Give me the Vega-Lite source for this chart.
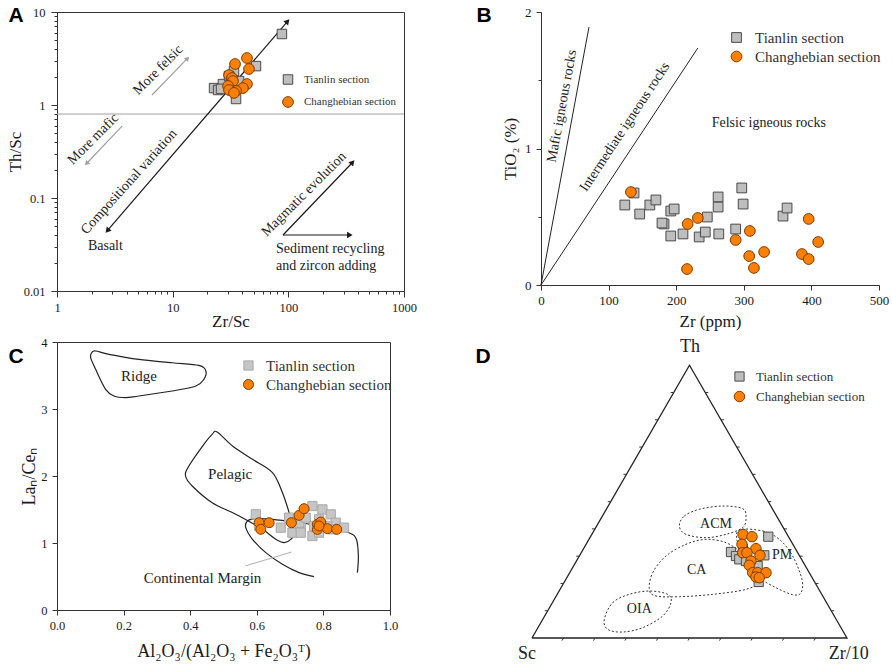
{
  "$schema": "https://vega.github.io/schema/vega-lite/v6.json",
  "background": "white",
  "padding": {"left": 6, "top": 4, "right": 2, "bottom": 2},
  "columns": 2,
  "spacing": {"row": 51, "column": 137},
  "bounds": "flush",
  "resolve": {
    "scale": {"shape": "independent", "fill": "independent", "stroke": "independent", "size": "independent"},
    "legend": {"shape": "independent", "fill": "independent", "stroke": "independent", "size": "independent"}
  },
  "config": {
    "font": "Liberation Serif",
    "view": {"stroke": "#333", "strokeWidth": 1},
    "axis": {
      "grid": false, "labelFont": "Liberation Serif", "titleFont": "Liberation Serif",
      "titleFontWeight": "normal", "labelColor": "#1a1a1a", "titleColor": "#1a1a1a",
      "domainColor": "#333", "tickColor": "#333", "labelFontSize": 12, "titleFontSize": 17,
      "labelOverlap": false, "labelFlush": false
    },
    "legend": {"labelFont": "Liberation Serif", "labelColor": "#333", "title": null, "padding": 0, "symbolStrokeWidth": 1}
  },
  "concat": [
    {
      "width": 347, "height": 279,
      "view": {"stroke": "#333", "strokeWidth": 1},
      "layer": [
        {
          "data": {"values": [{"th_sc": 0.8}]},
          "mark": {"type": "rule", "color": "#a0a0a0", "strokeWidth": 1},
          "encoding": {"y": {"field": "th_sc", "type": "quantitative", "scale": {"type": "log", "domain": [0.01, 10], "nice": false}}}
        },
        {
          "data": {"values": [
            {"arrow": "main", "zr_sc": 2.76, "th_sc": 0.0453}, {"arrow": "main", "zr_sc": 97.3, "th_sc": 7.8},
            {"arrow": "magmatic", "zr_sc": 89.9, "th_sc": 0.040}, {"arrow": "magmatic", "zr_sc": 355, "th_sc": 0.238},
            {"arrow": "sediment", "zr_sc": 89.9, "th_sc": 0.040}, {"arrow": "sediment", "zr_sc": 334, "th_sc": 0.040}
          ]},
          "mark": {"type": "line", "color": "#1a1a1a", "strokeWidth": 1.2},
          "encoding": {
            "x": {"field": "zr_sc", "type": "quantitative", "scale": {"type": "log", "domain": [1, 1000], "nice": false}},
            "y": {"field": "th_sc", "type": "quantitative", "scale": {"type": "log", "domain": [0.01, 10], "nice": false}},
            "detail": {"field": "arrow"}
          }
        },
        {
          "data": {"values": [
            {"arrow": "felsic", "zr_sc": 6.63, "th_sc": 1.28}, {"arrow": "felsic", "zr_sc": 13.3, "th_sc": 3.13},
            {"arrow": "mafic", "zr_sc": 3.65, "th_sc": 0.594}, {"arrow": "mafic", "zr_sc": 1.82, "th_sc": 0.238}
          ]},
          "mark": {"type": "line", "color": "#a0a0a0", "strokeWidth": 1.2},
          "encoding": {"x": {"field": "zr_sc", "type": "quantitative"}, "y": {"field": "th_sc", "type": "quantitative"}, "detail": {"field": "arrow"}}
        },
        {
          "data": {"values": [{"zr_sc": 97.3, "th_sc": 7.8}, {"zr_sc": 355, "th_sc": 0.238}]},
          "mark": {"type": "point", "shape": "triangle", "filled": true, "color": "#1a1a1a", "size": 40, "angle": 42, "opacity": 1},
          "encoding": {"x": {"field": "zr_sc", "type": "quantitative"}, "y": {"field": "th_sc", "type": "quantitative"}}
        },
        {
          "data": {"values": [{"zr_sc": 2.76, "th_sc": 0.0453}]},
          "mark": {"type": "point", "shape": "triangle", "filled": true, "color": "#1a1a1a", "size": 40, "angle": 221, "opacity": 1},
          "encoding": {"x": {"field": "zr_sc", "type": "quantitative"}, "y": {"field": "th_sc", "type": "quantitative"}}
        },
        {
          "data": {"values": [{"zr_sc": 334, "th_sc": 0.040}]},
          "mark": {"type": "point", "shape": "triangle", "filled": true, "color": "#1a1a1a", "size": 40, "angle": 90, "opacity": 1},
          "encoding": {"x": {"field": "zr_sc", "type": "quantitative"}, "y": {"field": "th_sc", "type": "quantitative"}}
        },
        {
          "data": {"values": [{"zr_sc": 13.3, "th_sc": 3.13}]},
          "mark": {"type": "point", "shape": "triangle", "filled": true, "color": "#a0a0a0", "size": 30, "angle": 44, "opacity": 1},
          "encoding": {"x": {"field": "zr_sc", "type": "quantitative"}, "y": {"field": "th_sc", "type": "quantitative"}}
        },
        {
          "data": {"values": [{"zr_sc": 1.82, "th_sc": 0.238}]},
          "mark": {"type": "point", "shape": "triangle", "filled": true, "color": "#a0a0a0", "size": 30, "angle": 223, "opacity": 1},
          "encoding": {"x": {"field": "zr_sc", "type": "quantitative"}, "y": {"field": "th_sc", "type": "quantitative"}}
        },
        {
          "data": {"values": [
            {"label": "More felsic", "zr_sc": 7.47, "th_sc": 2.38},
            {"label": "More mafic", "zr_sc": 2.05, "th_sc": 0.43},
            {"label": "Magmatic evolution", "zr_sc": 136.5, "th_sc": 0.110}
          ]},
          "mark": {"type": "text", "angle": -45, "fontSize": 14, "font": "Liberation Serif", "color": "#222", "align": "center", "baseline": "middle"},
          "encoding": {"x": {"field": "zr_sc", "type": "quantitative"}, "y": {"field": "th_sc", "type": "quantitative"}, "text": {"field": "label"}}
        },
        {
          "data": {"values": [{"label": "Compositional variation", "zr_sc": 4.19, "th_sc": 0.149}]},
          "mark": {"type": "text", "angle": -48, "fontSize": 14, "font": "Liberation Serif", "color": "#222", "align": "center", "baseline": "middle"},
          "encoding": {"x": {"field": "zr_sc", "type": "quantitative"}, "y": {"field": "th_sc", "type": "quantitative"}, "text": {"field": "label"}}
        },
        {
          "data": {"values": [
            {"label": "Basalt", "zr_sc": 1.85, "th_sc": 0.0305},
            {"label": "Sediment recycling", "zr_sc": 78.2, "th_sc": 0.0283},
            {"label": "and zircon adding", "zr_sc": 78.2, "th_sc": 0.0186}
          ]},
          "mark": {"type": "text", "fontSize": 14, "font": "Liberation Serif", "color": "#222", "align": "left", "baseline": "middle"},
          "encoding": {"x": {"field": "zr_sc", "type": "quantitative"}, "y": {"field": "th_sc", "type": "quantitative"}, "text": {"field": "label"}}
        },
        {
          "data": {"values": [{"label": "A", "zr_sc": 0.442, "th_sc": 9.06}]},
          "mark": {"type": "text", "fontSize": 21, "font": "Liberation Sans", "fontWeight": "bold", "color": "#000", "align": "center", "baseline": "middle", "clip": false},
          "encoding": {"x": {"field": "zr_sc", "type": "quantitative"}, "y": {"field": "th_sc", "type": "quantitative"}, "text": {"field": "label"}}
        },
        {
          "data": {"values": [
            {"section": "Tianlin section", "zr_sc": 22.8, "th_sc": 1.52},
            {"section": "Tianlin section", "zr_sc": 24.7, "th_sc": 1.45},
            {"section": "Tianlin section", "zr_sc": 27.2, "th_sc": 1.68},
            {"section": "Tianlin section", "zr_sc": 35.3, "th_sc": 1.16},
            {"section": "Tianlin section", "zr_sc": 37.5, "th_sc": 1.81},
            {"section": "Tianlin section", "zr_sc": 33.9, "th_sc": 2.32},
            {"section": "Tianlin section", "zr_sc": 30.7, "th_sc": 2.05},
            {"section": "Tianlin section", "zr_sc": 52.5, "th_sc": 2.62},
            {"section": "Tianlin section", "zr_sc": 88, "th_sc": 5.8},
            {"section": "Tianlin section", "zr_sc": 26.2, "th_sc": 1.49},
            {"section": "Changhebian section", "zr_sc": 43.9, "th_sc": 3.2},
            {"section": "Changhebian section", "zr_sc": 34.6, "th_sc": 2.76},
            {"section": "Changhebian section", "zr_sc": 45.7, "th_sc": 2.44},
            {"section": "Changhebian section", "zr_sc": 30.7, "th_sc": 2.10},
            {"section": "Changhebian section", "zr_sc": 32.6, "th_sc": 1.95},
            {"section": "Changhebian section", "zr_sc": 33.2, "th_sc": 1.81},
            {"section": "Changhebian section", "zr_sc": 43.9, "th_sc": 1.68},
            {"section": "Changhebian section", "zr_sc": 30.1, "th_sc": 1.60},
            {"section": "Changhebian section", "zr_sc": 40.5, "th_sc": 1.52},
            {"section": "Changhebian section", "zr_sc": 35.3, "th_sc": 1.42},
            {"section": "Changhebian section", "zr_sc": 30.7, "th_sc": 1.45},
            {"section": "Changhebian section", "zr_sc": 33.9, "th_sc": 1.35}
          ]},
          "mark": {"type": "point", "filled": true, "opacity": 1, "strokeWidth": 1},
          "encoding": {
            "x": {"field": "zr_sc", "type": "quantitative", "scale": {"type": "log", "domain": [1, 1000], "nice": false},
              "axis": {"title": "Zr/Sc", "values": [1,2,3,4,5,6,7,8,9,10,20,30,40,50,60,70,80,90,100,200,300,400,500,600,700,800,900,1000],
                "labelExpr": "(datum.value==1||datum.value==10||datum.value==100||datum.value==1000) ? format(datum.value,'d') : ''",
                "tickSize": {"condition": {"test": "datum.value==1||datum.value==10||datum.value==100||datum.value==1000", "value": 6}, "value": 3},
                "labelFont": "Liberation Serif", "labelFontSize": 12.5, "labelPadding": 4, "titleY": 30, "titleBaseline": "middle"}},
            "y": {"field": "th_sc", "type": "quantitative", "scale": {"type": "log", "domain": [0.01, 10], "nice": false},
              "axis": {"title": "Th/Sc", "values": [0.01,0.02,0.03,0.04,0.05,0.06,0.07,0.08,0.09,0.1,0.2,0.3,0.4,0.5,0.6,0.7,0.8,0.9,1,2,3,4,5,6,7,8,9,10],
                "labelExpr": "(datum.value==0.01||datum.value==0.1||datum.value==1||datum.value==10) ? format(datum.value,'~g') : ''",
                "tickSize": {"condition": {"test": "datum.value==0.01||datum.value==0.1||datum.value==1||datum.value==10", "value": 6}, "value": 3},
                "labelFont": "Liberation Serif", "labelFontSize": 12.5, "labelPadding": 6, "titleX": -41.5, "titleBaseline": "middle"}},
            "shape": {"field": "section", "type": "nominal", "scale": {"domain": ["Tianlin section", "Changhebian section"], "range": ["square", "circle"]},
              "legend": {"orient": "none", "legendX": 225, "legendY": 62, "labelFontSize": 11, "rowPadding": 7, "labelOffset": 10}},
            "fill": {"field": "section", "type": "nominal", "scale": {"domain": ["Tianlin section", "Changhebian section"], "range": ["#BEBEBE", "#FF8000"]}},
            "stroke": {"field": "section", "type": "nominal", "scale": {"domain": ["Tianlin section", "Changhebian section"], "range": ["#4A4A4A", "#7A3D00"]}},
            "size": {"field": "section", "type": "nominal", "scale": {"domain": ["Tianlin section", "Changhebian section"], "range": [90, 115]}}
          }
        }
      ]
    },
    {
      "width": 338, "height": 273,
      "view": {"stroke": null},
      "layer": [
        {
          "data": {"values": [
            {"line": "mafic", "zr": 0, "tio2": 0}, {"line": "mafic", "zr": 71, "tio2": 1.89},
            {"line": "intermediate", "zr": 0, "tio2": 0}, {"line": "intermediate", "zr": 232, "tio2": 1.736}
          ]},
          "mark": {"type": "line", "color": "#222", "strokeWidth": 1},
          "encoding": {
            "x": {"field": "zr", "type": "quantitative", "scale": {"domain": [0, 500], "nice": false}},
            "y": {"field": "tio2", "type": "quantitative", "scale": {"domain": [0, 2], "nice": false}},
            "detail": {"field": "line"}
          }
        },
        {
          "data": {"values": [{"label": "Mafic igneous rocks", "zr": 31, "tio2": 1.31}]},
          "mark": {"type": "text", "angle": -79.5, "fontSize": 14, "font": "Liberation Serif", "color": "#222", "align": "center", "baseline": "middle"},
          "encoding": {"x": {"field": "zr", "type": "quantitative"}, "y": {"field": "tio2", "type": "quantitative"}, "text": {"field": "label"}}
        },
        {
          "data": {"values": [{"label": "Intermediate igneous rocks", "zr": 124, "tio2": 1.158}]},
          "mark": {"type": "text", "angle": -56.5, "fontSize": 14, "font": "Liberation Serif", "color": "#222", "align": "center", "baseline": "middle"},
          "encoding": {"x": {"field": "zr", "type": "quantitative"}, "y": {"field": "tio2", "type": "quantitative"}, "text": {"field": "label"}}
        },
        {
          "data": {"values": [{"label": "Felsic igneous rocks", "zr": 337, "tio2": 1.19}]},
          "mark": {"type": "text", "fontSize": 14, "font": "Liberation Serif", "color": "#222", "align": "center", "baseline": "middle"},
          "encoding": {"x": {"field": "zr", "type": "quantitative"}, "y": {"field": "tio2", "type": "quantitative"}, "text": {"field": "label"}}
        },
        {
          "data": {"values": [{"label": "B", "zr": -84.3, "tio2": 1.97}]},
          "mark": {"type": "text", "fontSize": 21, "font": "Liberation Sans", "fontWeight": "bold", "color": "#000", "align": "center", "baseline": "middle", "clip": false},
          "encoding": {"x": {"field": "zr", "type": "quantitative"}, "y": {"field": "tio2", "type": "quantitative"}, "text": {"field": "label"}}
        },
        {
          "data": {"values": [
            {"section": "Tianlin section", "zr": 137.6, "tio2": 0.674},
            {"section": "Tianlin section", "zr": 124, "tio2": 0.586},
            {"section": "Tianlin section", "zr": 146, "tio2": 0.52},
            {"section": "Tianlin section", "zr": 161, "tio2": 0.586},
            {"section": "Tianlin section", "zr": 170, "tio2": 0.623},
            {"section": "Tianlin section", "zr": 192, "tio2": 0.542},
            {"section": "Tianlin section", "zr": 197, "tio2": 0.557},
            {"section": "Tianlin section", "zr": 182, "tio2": 0.447},
            {"section": "Tianlin section", "zr": 179, "tio2": 0.454},
            {"section": "Tianlin section", "zr": 192, "tio2": 0.359},
            {"section": "Tianlin section", "zr": 210, "tio2": 0.374},
            {"section": "Tianlin section", "zr": 234, "tio2": 0.352},
            {"section": "Tianlin section", "zr": 243, "tio2": 0.388},
            {"section": "Tianlin section", "zr": 246, "tio2": 0.498},
            {"section": "Tianlin section", "zr": 262, "tio2": 0.645},
            {"section": "Tianlin section", "zr": 262, "tio2": 0.571},
            {"section": "Tianlin section", "zr": 263, "tio2": 0.374},
            {"section": "Tianlin section", "zr": 288, "tio2": 0.41},
            {"section": "Tianlin section", "zr": 297, "tio2": 0.711},
            {"section": "Tianlin section", "zr": 299, "tio2": 0.593},
            {"section": "Tianlin section", "zr": 358, "tio2": 0.505},
            {"section": "Tianlin section", "zr": 364, "tio2": 0.564},
            {"section": "Changhebian section", "zr": 133, "tio2": 0.681},
            {"section": "Changhebian section", "zr": 217, "tio2": 0.447},
            {"section": "Changhebian section", "zr": 232, "tio2": 0.491},
            {"section": "Changhebian section", "zr": 309, "tio2": 0.396},
            {"section": "Changhebian section", "zr": 288, "tio2": 0.33},
            {"section": "Changhebian section", "zr": 308, "tio2": 0.212},
            {"section": "Changhebian section", "zr": 330, "tio2": 0.242},
            {"section": "Changhebian section", "zr": 315, "tio2": 0.125},
            {"section": "Changhebian section", "zr": 216, "tio2": 0.117},
            {"section": "Changhebian section", "zr": 396, "tio2": 0.484},
            {"section": "Changhebian section", "zr": 410, "tio2": 0.315},
            {"section": "Changhebian section", "zr": 386, "tio2": 0.227},
            {"section": "Changhebian section", "zr": 396, "tio2": 0.19}
          ]},
          "mark": {"type": "point", "filled": true, "opacity": 1, "strokeWidth": 1},
          "encoding": {
            "x": {"field": "zr", "type": "quantitative", "scale": {"domain": [0, 500], "nice": false},
              "axis": {"title": "Zr (ppm)", "values": [0,50,100,150,200,250,300,350,400,450,500],
                "labelExpr": "datum.value % 100 == 0 ? format(datum.value, 'd') : ''",
                "tickSize": {"condition": {"test": "datum.value % 100 == 0", "value": 5}, "value": 3},
                "labelFont": "Liberation Serif", "labelFontSize": 13, "labelPadding": 4, "titleY": 36, "titleBaseline": "middle"}},
            "y": {"field": "tio2", "type": "quantitative", "scale": {"domain": [0, 2], "nice": false},
              "axis": {"title": "TiO₂ (%)", "values": [0, 0.5, 1, 1.5, 2],
                "labelExpr": "datum.value % 1 == 0 ? format(datum.value, 'd') : ''",
                "tickSize": {"condition": {"test": "datum.value % 1 == 0", "value": 5}, "value": 3},
                "labelFont": "Liberation Serif", "labelFontSize": 13, "labelPadding": 5, "titleX": -31, "titleBaseline": "middle"}},
            "shape": {"field": "section", "type": "nominal", "scale": {"domain": ["Tianlin section", "Changhebian section"], "range": ["square", "circle"]},
              "legend": {"orient": "none", "legendX": 188, "legendY": 18, "labelFontSize": 15, "rowPadding": 3, "labelOffset": 11}},
            "fill": {"field": "section", "type": "nominal", "scale": {"domain": ["Tianlin section", "Changhebian section"], "range": ["#BEBEBE", "#FF8000"]}},
            "stroke": {"field": "section", "type": "nominal", "scale": {"domain": ["Tianlin section", "Changhebian section"], "range": ["#4A4A4A", "#7A3D00"]}},
            "size": {"field": "section", "type": "nominal", "scale": {"domain": ["Tianlin section", "Changhebian section"], "range": [95, 115]}}
          }
        }
      ]
    },
    {
      "width": 333, "height": 268,
      "view": {"stroke": "#333", "strokeWidth": 1},
      "layer": [
        {
          "data": {"values": [
            {"i": 1, "al": 0.104, "lace": 3.84}, {"i": 2, "al": 0.116, "lace": 3.866}, {"i": 3, "al": 0.156, "lace": 3.816},
            {"i": 4, "al": 0.246, "lace": 3.74}, {"i": 5, "al": 0.346, "lace": 3.69}, {"i": 6, "al": 0.426, "lace": 3.65},
            {"i": 7, "al": 0.447, "lace": 3.567}, {"i": 8, "al": 0.441, "lace": 3.443}, {"i": 9, "al": 0.417, "lace": 3.343},
            {"i": 10, "al": 0.346, "lace": 3.269}, {"i": 11, "al": 0.246, "lace": 3.194}, {"i": 12, "al": 0.206, "lace": 3.169},
            {"i": 13, "al": 0.171, "lace": 3.194}, {"i": 14, "al": 0.146, "lace": 3.294}, {"i": 15, "al": 0.116, "lace": 3.593},
            {"i": 16, "al": 0.101, "lace": 3.766}
          ]},
          "mark": {"type": "line", "color": "#222", "strokeWidth": 1.2, "interpolate": "cardinal-closed"},
          "encoding": {
            "x": {"field": "al", "type": "quantitative", "scale": {"domain": [0, 1], "nice": false}},
            "y": {"field": "lace", "type": "quantitative", "scale": {"domain": [0, 4], "nice": false}},
            "order": {"field": "i", "type": "quantitative"}
          }
        },
        {
          "data": {"values": [
            {"i": 1, "al": 0.481, "lace": 2.657}, {"i": 2, "al": 0.527, "lace": 2.448}, {"i": 3, "al": 0.587, "lace": 2.249},
            {"i": 4, "al": 0.647, "lace": 2.05}, {"i": 5, "al": 0.677, "lace": 1.751}, {"i": 6, "al": 0.697, "lace": 1.453},
            {"i": 7, "al": 0.712, "lace": 1.154}, {"i": 8, "al": 0.702, "lace": 1.055}, {"i": 9, "al": 0.682, "lace": 1.005},
            {"i": 10, "al": 0.657, "lace": 1.055}, {"i": 11, "al": 0.617, "lace": 1.204}, {"i": 12, "al": 0.547, "lace": 1.403},
            {"i": 13, "al": 0.466, "lace": 1.602}, {"i": 14, "al": 0.406, "lace": 1.851}, {"i": 15, "al": 0.386, "lace": 2.0},
            {"i": 16, "al": 0.396, "lace": 2.149}, {"i": 17, "al": 0.441, "lace": 2.473}, {"i": 18, "al": 0.466, "lace": 2.622}
          ]},
          "mark": {"type": "line", "color": "#222", "strokeWidth": 1.2, "interpolate": "cardinal-closed"},
          "encoding": {"x": {"field": "al", "type": "quantitative"}, "y": {"field": "lace", "type": "quantitative"}, "order": {"field": "i", "type": "quantitative"}}
        },
        {
          "data": {"values": [
            {"i": 1, "al": 0.772, "lace": 0.497}, {"i": 2, "al": 0.727, "lace": 0.557}, {"i": 3, "al": 0.677, "lace": 0.682},
            {"i": 4, "al": 0.627, "lace": 0.856}, {"i": 5, "al": 0.587, "lace": 1.055}, {"i": 6, "al": 0.567, "lace": 1.229},
            {"i": 7, "al": 0.572, "lace": 1.328}, {"i": 8, "al": 0.597, "lace": 1.363}, {"i": 9, "al": 0.647, "lace": 1.353},
            {"i": 10, "al": 0.727, "lace": 1.303}, {"i": 11, "al": 0.807, "lace": 1.244}, {"i": 12, "al": 0.877, "lace": 1.154},
            {"i": 13, "al": 0.899, "lace": 1.055}, {"i": 14, "al": 0.905, "lace": 0.806}, {"i": 15, "al": 0.902, "lace": 0.557}
          ]},
          "mark": {"type": "line", "color": "#222", "strokeWidth": 1.2, "interpolate": "cardinal"},
          "encoding": {"x": {"field": "al", "type": "quantitative"}, "y": {"field": "lace", "type": "quantitative"}, "order": {"field": "i", "type": "quantitative"}}
        },
        {
          "data": {"values": [{"i": 1, "al": 0.565, "lace": 0.657}, {"i": 2, "al": 0.705, "lace": 0.866}]},
          "mark": {"type": "line", "color": "#b0b0b0", "strokeWidth": 1},
          "encoding": {"x": {"field": "al", "type": "quantitative"}, "y": {"field": "lace", "type": "quantitative"}, "order": {"field": "i", "type": "quantitative"}}
        },
        {
          "data": {"values": [
            {"label": "Ridge", "al": 0.246, "lace": 3.50},
            {"label": "Pelagic", "al": 0.52, "lace": 2.025},
            {"label": "Continental Margin", "al": 0.437, "lace": 0.482}
          ]},
          "mark": {"type": "text", "fontSize": 15, "font": "Liberation Serif", "color": "#222", "align": "center", "baseline": "middle"},
          "encoding": {"x": {"field": "al", "type": "quantitative"}, "y": {"field": "lace", "type": "quantitative"}, "text": {"field": "label"}}
        },
        {
          "data": {"values": [{"label": "C", "al": -0.123, "lace": 3.776}]},
          "mark": {"type": "text", "fontSize": 21, "font": "Liberation Sans", "fontWeight": "bold", "color": "#000", "align": "center", "baseline": "middle", "clip": false},
          "encoding": {"x": {"field": "al", "type": "quantitative"}, "y": {"field": "lace", "type": "quantitative"}, "text": {"field": "label"}}
        },
        {
          "data": {"values": [
            {"section": "Tianlin section", "al": 0.597, "lace": 1.428},
            {"section": "Tianlin section", "al": 0.672, "lace": 1.229},
            {"section": "Tianlin section", "al": 0.707, "lace": 1.154},
            {"section": "Tianlin section", "al": 0.732, "lace": 1.229},
            {"section": "Tianlin section", "al": 0.767, "lace": 1.552},
            {"section": "Tianlin section", "al": 0.797, "lace": 1.502},
            {"section": "Tianlin section", "al": 0.822, "lace": 1.428},
            {"section": "Tianlin section", "al": 0.837, "lace": 1.303},
            {"section": "Tianlin section", "al": 0.862, "lace": 1.229},
            {"section": "Tianlin section", "al": 0.767, "lace": 1.104},
            {"section": "Tianlin section", "al": 0.727, "lace": 1.303},
            {"section": "Tianlin section", "al": 0.787, "lace": 1.353},
            {"section": "Tianlin section", "al": 0.812, "lace": 1.254},
            {"section": "Tianlin section", "al": 0.747, "lace": 1.378},
            {"section": "Tianlin section", "al": 0.697, "lace": 1.378},
            {"section": "Tianlin section", "al": 0.772, "lace": 1.254},
            {"section": "Tianlin section", "al": 0.607, "lace": 1.254},
            {"section": "Tianlin section", "al": 0.827, "lace": 1.204},
            {"section": "Tianlin section", "al": 0.732, "lace": 1.154},
            {"section": "Tianlin section", "al": 0.787, "lace": 1.154},
            {"section": "Changhebian section", "al": 0.607, "lace": 1.303},
            {"section": "Changhebian section", "al": 0.612, "lace": 1.204},
            {"section": "Changhebian section", "al": 0.637, "lace": 1.303},
            {"section": "Changhebian section", "al": 0.704, "lace": 1.303},
            {"section": "Changhebian section", "al": 0.727, "lace": 1.413},
            {"section": "Changhebian section", "al": 0.742, "lace": 1.512},
            {"section": "Changhebian section", "al": 0.782, "lace": 1.279},
            {"section": "Changhebian section", "al": 0.792, "lace": 1.313},
            {"section": "Changhebian section", "al": 0.782, "lace": 1.204},
            {"section": "Changhebian section", "al": 0.812, "lace": 1.214},
            {"section": "Changhebian section", "al": 0.84, "lace": 1.204},
            {"section": "Changhebian section", "al": 0.787, "lace": 1.254}
          ]},
          "mark": {"type": "point", "filled": true, "opacity": 1, "strokeWidth": 1},
          "encoding": {
            "x": {"field": "al", "type": "quantitative", "scale": {"domain": [0, 1], "nice": false},
              "axis": {"title": "Al₂O₃/(Al₂O₃ + Fe₂O₃ᵀ)", "values": [0,0.1,0.2,0.3,0.4,0.5,0.6,0.7,0.8,0.9,1],
                "labelExpr": "round(datum.value*10) % 2 == 0 ? format(datum.value, '.1f') : ''",
                "tickSize": {"condition": {"test": "round(datum.value*10) % 2 == 0", "value": 5}, "value": 3},
                "labelFont": "Liberation Serif", "labelFontSize": 12.5, "labelPadding": 4, "titleFontSize": 18, "titleY": 41, "titleBaseline": "middle"}},
            "y": {"field": "lace", "type": "quantitative", "scale": {"domain": [0, 4], "nice": false},
              "axis": {"title": "Laₙ/Ceₙ", "values": [0,0.5,1,1.5,2,2.5,3,3.5,4],
                "labelExpr": "datum.value % 1 == 0 ? format(datum.value, 'd') : ''",
                "tickSize": {"condition": {"test": "datum.value % 1 == 0", "value": 5}, "value": 3},
                "labelFont": "Liberation Serif", "labelFontSize": 12.5, "labelPadding": 5, "titleFontSize": 18, "titleX": -28, "titleBaseline": "middle"}},
            "shape": {"field": "section", "type": "nominal", "scale": {"domain": ["Tianlin section", "Changhebian section"], "range": ["square", "circle"]},
              "legend": {"orient": "none", "legendX": 184, "legendY": 16, "labelFontSize": 15, "rowPadding": 3, "labelOffset": 10}},
            "fill": {"field": "section", "type": "nominal", "scale": {"domain": ["Tianlin section", "Changhebian section"], "range": ["#C6C6C6", "#FF8000"]}},
            "stroke": {"field": "section", "type": "nominal", "scale": {"domain": ["Tianlin section", "Changhebian section"], "range": ["#A8A8A8", "#7A3D00"]}},
            "size": {"field": "section", "type": "nominal", "scale": {"domain": ["Tianlin section", "Changhebian section"], "range": [85, 100]}}
          }
        }
      ]
    },
    {
      "width": 340, "height": 319,
      "view": {"stroke": null},
      "layer": [
        {
          "data": {"values": [
            {"i": 1, "tx": 0, "ty": 0}, {"i": 2, "tx": 1, "ty": 0}, {"i": 3, "tx": 0.5, "ty": 0.866}, {"i": 4, "tx": 0, "ty": 0}
          ]},
          "mark": {"type": "line", "color": "#222", "strokeWidth": 1.3},
          "encoding": {
            "x": {"field": "tx", "type": "quantitative", "scale": {"domain": [0.0286, 1.108], "nice": false, "zero": false}, "axis": null},
            "y": {"field": "ty", "type": "quantitative", "scale": {"domain": [-0.073, 0.9397], "nice": false, "zero": false}, "axis": null},
            "order": {"field": "i", "type": "quantitative"}
          }
        },
        {
          "data": {"values": [
            {"tx": 0.05, "ty": 0.0866}, {"tx": 0.1, "ty": 0.1732}, {"tx": 0.15, "ty": 0.2598}, {"tx": 0.2, "ty": 0.3464},
            {"tx": 0.25, "ty": 0.433}, {"tx": 0.3, "ty": 0.5196}, {"tx": 0.35, "ty": 0.6062}, {"tx": 0.4, "ty": 0.6928}, {"tx": 0.45, "ty": 0.7794}
          ]},
          "mark": {"type": "point", "shape": "M0,0L-1,0", "size": 36, "filled": false, "color": "#333", "strokeWidth": 1, "opacity": 1},
          "encoding": {"x": {"field": "tx", "type": "quantitative", "axis": null}, "y": {"field": "ty", "type": "quantitative", "axis": null}}
        },
        {
          "data": {"values": [
            {"tx": 0.95, "ty": 0.0866}, {"tx": 0.9, "ty": 0.1732}, {"tx": 0.85, "ty": 0.2598}, {"tx": 0.8, "ty": 0.3464},
            {"tx": 0.75, "ty": 0.433}, {"tx": 0.7, "ty": 0.5196}, {"tx": 0.65, "ty": 0.6062}, {"tx": 0.6, "ty": 0.6928}, {"tx": 0.55, "ty": 0.7794}
          ]},
          "mark": {"type": "point", "shape": "M0,0L1,0", "size": 36, "filled": false, "color": "#333", "strokeWidth": 1, "opacity": 1},
          "encoding": {"x": {"field": "tx", "type": "quantitative", "axis": null}, "y": {"field": "ty", "type": "quantitative", "axis": null}}
        },
        {
          "data": {"values": [
            {"tx": 0.1, "ty": 0}, {"tx": 0.2, "ty": 0}, {"tx": 0.3, "ty": 0}, {"tx": 0.4, "ty": 0}, {"tx": 0.5, "ty": 0},
            {"tx": 0.6, "ty": 0}, {"tx": 0.7, "ty": 0}, {"tx": 0.8, "ty": 0}, {"tx": 0.9, "ty": 0}
          ]},
          "mark": {"type": "point", "shape": "M0,0L-0.5,0.866", "size": 36, "filled": false, "color": "#333", "strokeWidth": 1, "opacity": 1},
          "encoding": {"x": {"field": "tx", "type": "quantitative", "axis": null}, "y": {"field": "ty", "type": "quantitative", "axis": null}}
        },
        {
          "data": {"values": [
            {"field": "ACM", "i": 1, "tx": 0.4677, "ty": 0.3556}, {"field": "ACM", "i": 2, "tx": 0.4836, "ty": 0.3873},
            {"field": "ACM", "i": 3, "tx": 0.5312, "ty": 0.4085}, {"field": "ACM", "i": 4, "tx": 0.6053, "ty": 0.4190},
            {"field": "ACM", "i": 5, "tx": 0.6688, "ty": 0.4106}, {"field": "ACM", "i": 6, "tx": 0.6794, "ty": 0.3820},
            {"field": "ACM", "i": 7, "tx": 0.6688, "ty": 0.3503}, {"field": "ACM", "i": 8, "tx": 0.6159, "ty": 0.3291},
            {"field": "ACM", "i": 9, "tx": 0.5524, "ty": 0.3185}, {"field": "ACM", "i": 10, "tx": 0.4889, "ty": 0.3291},
            {"field": "PM", "i": 1, "tx": 0.6582, "ty": 0.3429}, {"field": "PM", "i": 2, "tx": 0.7323, "ty": 0.3397},
            {"field": "PM", "i": 3, "tx": 0.7852, "ty": 0.3132}, {"field": "PM", "i": 4, "tx": 0.8275, "ty": 0.2603},
            {"field": "PM", "i": 5, "tx": 0.8571, "ty": 0.1862}, {"field": "PM", "i": 6, "tx": 0.8540, "ty": 0.1439},
            {"field": "PM", "i": 7, "tx": 0.8275, "ty": 0.1376}, {"field": "PM", "i": 8, "tx": 0.7746, "ty": 0.1598},
            {"field": "PM", "i": 9, "tx": 0.7217, "ty": 0.1915}, {"field": "PM", "i": 10, "tx": 0.6847, "ty": 0.2392},
            {"field": "PM", "i": 11, "tx": 0.6529, "ty": 0.3026},
            {"field": "CA", "i": 1, "tx": 0.3725, "ty": 0.1545}, {"field": "CA", "i": 2, "tx": 0.3831, "ty": 0.2074},
            {"field": "CA", "i": 3, "tx": 0.4254, "ty": 0.2603}, {"field": "CA", "i": 4, "tx": 0.4889, "ty": 0.2974},
            {"field": "CA", "i": 5, "tx": 0.5524, "ty": 0.3132}, {"field": "CA", "i": 6, "tx": 0.6159, "ty": 0.3026},
            {"field": "CA", "i": 7, "tx": 0.6635, "ty": 0.2709}, {"field": "CA", "i": 8, "tx": 0.7005, "ty": 0.2286},
            {"field": "CA", "i": 9, "tx": 0.7217, "ty": 0.1810}, {"field": "CA", "i": 10, "tx": 0.6794, "ty": 0.1545},
            {"field": "CA", "i": 11, "tx": 0.5735, "ty": 0.1386}, {"field": "CA", "i": 12, "tx": 0.4677, "ty": 0.1312},
            {"field": "CA", "i": 13, "tx": 0.3937, "ty": 0.1333},
            {"field": "OIA", "i": 1, "tx": 0.2296, "ty": 0.0593}, {"field": "OIA", "i": 2, "tx": 0.2561, "ty": 0.1122},
            {"field": "OIA", "i": 3, "tx": 0.3090, "ty": 0.1386}, {"field": "OIA", "i": 4, "tx": 0.3725, "ty": 0.1492},
            {"field": "OIA", "i": 5, "tx": 0.4307, "ty": 0.1386}, {"field": "OIA", "i": 6, "tx": 0.4413, "ty": 0.1122},
            {"field": "OIA", "i": 7, "tx": 0.4148, "ty": 0.0698}, {"field": "OIA", "i": 8, "tx": 0.3513, "ty": 0.0328},
            {"field": "OIA", "i": 9, "tx": 0.2878, "ty": 0.0190}, {"field": "OIA", "i": 10, "tx": 0.2402, "ty": 0.0275}
          ]},
          "mark": {"type": "line", "color": "#333", "strokeWidth": 1, "strokeDash": [2, 2], "interpolate": "cardinal-closed"},
          "encoding": {
            "x": {"field": "tx", "type": "quantitative", "axis": null},
            "y": {"field": "ty", "type": "quantitative", "axis": null},
            "detail": {"field": "field"},
            "order": {"field": "i", "type": "quantitative"}
          }
        },
        {
          "data": {"values": [
            {"label": "ACM", "tx": 0.5841, "ty": 0.3608}, {"label": "PM", "tx": 0.7937, "ty": 0.2624},
            {"label": "CA", "tx": 0.5228, "ty": 0.2148}, {"label": "OIA", "tx": 0.3407, "ty": 0.0910}
          ]},
          "mark": {"type": "text", "fontSize": 14, "font": "Liberation Serif", "color": "#222", "align": "center", "baseline": "middle"},
          "encoding": {"x": {"field": "tx", "type": "quantitative", "axis": null}, "y": {"field": "ty", "type": "quantitative", "axis": null}, "text": {"field": "label"}}
        },
        {
          "data": {"values": [
            {"label": "Th", "tx": 0.502, "ty": 0.924}, {"label": "Sc", "tx": -0.016, "ty": -0.051}, {"label": "Zr/10", "tx": 1.006, "ty": -0.051}
          ]},
          "mark": {"type": "text", "fontSize": 18, "font": "Liberation Serif", "color": "#222", "align": "center", "baseline": "middle", "clip": false},
          "encoding": {"x": {"field": "tx", "type": "quantitative", "axis": null}, "y": {"field": "ty", "type": "quantitative", "axis": null}, "text": {"field": "label"}}
        },
        {
          "data": {"values": [{"label": "D", "tx": -0.1556, "ty": 0.892}]},
          "mark": {"type": "text", "fontSize": 21, "font": "Liberation Sans", "fontWeight": "bold", "color": "#000", "align": "center", "baseline": "middle", "clip": false},
          "encoding": {"x": {"field": "tx", "type": "quantitative", "axis": null}, "y": {"field": "ty", "type": "quantitative", "axis": null}, "text": {"field": "label"}}
        },
        {
          "data": {"values": [
            {"section": "Tianlin section", "tx": 0.7502, "ty": 0.3216},
            {"section": "Tianlin section", "tx": 0.6317, "ty": 0.2730},
            {"section": "Tianlin section", "tx": 0.6476, "ty": 0.2603},
            {"section": "Tianlin section", "tx": 0.6581, "ty": 0.2498},
            {"section": "Tianlin section", "tx": 0.7375, "ty": 0.2625},
            {"section": "Tianlin section", "tx": 0.7165, "ty": 0.2286},
            {"section": "Tianlin section", "tx": 0.7197, "ty": 0.1778},
            {"section": "Tianlin section", "tx": 0.6698, "ty": 0.2825},
            {"section": "Tianlin section", "tx": 0.6794, "ty": 0.2444},
            {"section": "Changhebian section", "tx": 0.6700, "ty": 0.3286},
            {"section": "Changhebian section", "tx": 0.6984, "ty": 0.3216},
            {"section": "Changhebian section", "tx": 0.6667, "ty": 0.2975},
            {"section": "Changhebian section", "tx": 0.6689, "ty": 0.2708},
            {"section": "Changhebian section", "tx": 0.7111, "ty": 0.2835},
            {"section": "Changhebian section", "tx": 0.6825, "ty": 0.2708},
            {"section": "Changhebian section", "tx": 0.7238, "ty": 0.2625},
            {"section": "Changhebian section", "tx": 0.6952, "ty": 0.2444},
            {"section": "Changhebian section", "tx": 0.6898, "ty": 0.2308},
            {"section": "Changhebian section", "tx": 0.7006, "ty": 0.2073},
            {"section": "Changhebian section", "tx": 0.7165, "ty": 0.2073},
            {"section": "Changhebian section", "tx": 0.7429, "ty": 0.2073},
            {"section": "Changhebian section", "tx": 0.7111, "ty": 0.1937},
            {"section": "Changhebian section", "tx": 0.7216, "ty": 0.1914}
          ]},
          "mark": {"type": "point", "filled": true, "opacity": 1, "strokeWidth": 1},
          "encoding": {
            "x": {"field": "tx", "type": "quantitative", "axis": null},
            "y": {"field": "ty", "type": "quantitative", "axis": null},
            "shape": {"field": "section", "type": "nominal", "scale": {"domain": ["Tianlin section", "Changhebian section"], "range": ["square", "circle"]},
              "legend": {"orient": "none", "legendX": 192, "legendY": 28, "labelFontSize": 13, "rowPadding": 5, "labelOffset": 10}},
            "fill": {"field": "section", "type": "nominal", "scale": {"domain": ["Tianlin section", "Changhebian section"], "range": ["#BEBEBE", "#FF8000"]}},
            "stroke": {"field": "section", "type": "nominal", "scale": {"domain": ["Tianlin section", "Changhebian section"], "range": ["#4A4A4A", "#7A3D00"]}},
            "size": {"field": "section", "type": "nominal", "scale": {"domain": ["Tianlin section", "Changhebian section"], "range": [85, 110]}}
          }
        }
      ]
    }
  ]
}
